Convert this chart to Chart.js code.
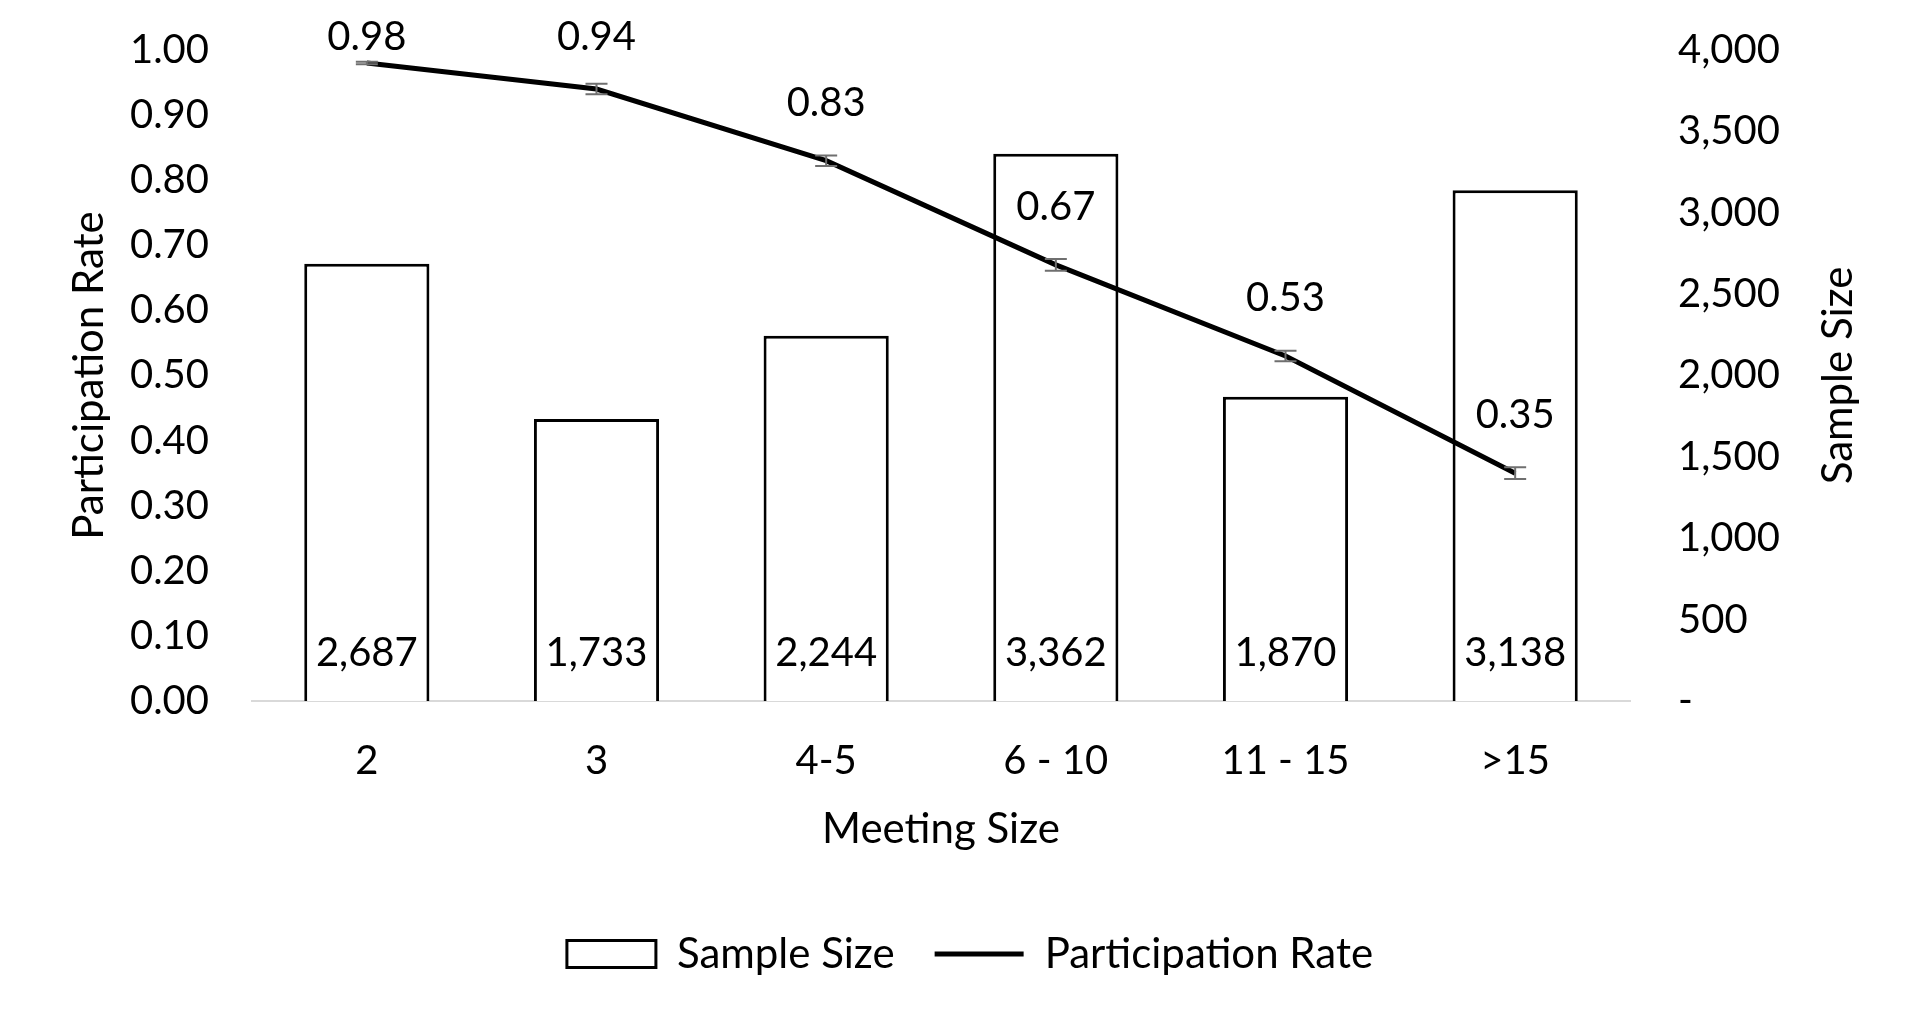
<!DOCTYPE html>
<html>
<head>
<meta charset="utf-8">
<script src="https://cdn.jsdelivr.net/npm/chart.js@4.4.0/dist/chart.umd.min.js"></script>
<style>
  html, body { margin: 0; padding: 0; background: #fff; }
  #wrap { width: 1923px; height: 1022px; }
</style>
</head>
<body>
<div id="wrap"><canvas id="chart"></canvas></div>
<script>
const categories = ['2', '3', '4-5', '6 - 10', '11 - 15', '>15'];
const sampleSize = [2687, 1733, 2244, 3362, 1870, 3138];
const participationRate = [0.98, 0.94, 0.83, 0.67, 0.53, 0.35];
const rateError = [0.002, 0.008, 0.008, 0.009, 0.008, 0.009];
const rateTicks = [0, 0.1, 0.2, 0.3, 0.4, 0.5, 0.6, 0.7, 0.8, 0.9, 1.0];
const sizeTicks = [0, 500, 1000, 1500, 2000, 2500, 3000, 3500, 4000];

const FONT = 'Lato';
Chart.defaults.color = '#000';
Chart.defaults.font.family = FONT;

// no extra room for half tick labels, the plot area is placed by hand
const noPad = scale => {
  scale.paddingTop = 0; scale.paddingBottom = 0;
  scale.paddingLeft = 0; scale.paddingRight = 0;
};

// error bars, value labels and the right-hand axis title
const extras = {
  id: 'extras',
  afterDatasetsDraw(chart) {
    const { ctx, chartArea } = chart;
    const yRate = chart.scales.yRate;
    const ySize = chart.scales.ySize;
    const lineMeta = chart.getDatasetMeta(1);
    const barMeta = chart.getDatasetMeta(0);

    ctx.save();
    ctx.strokeStyle = '#6f6f6f';
    ctx.lineWidth = 2;
    lineMeta.data.forEach((pt, i) => {
      const lo = yRate.getPixelForValue(participationRate[i] - rateError[i]);
      const hi = yRate.getPixelForValue(participationRate[i] + rateError[i]);
      ctx.beginPath();
      ctx.moveTo(pt.x, lo); ctx.lineTo(pt.x, hi);
      ctx.moveTo(pt.x - 11, lo); ctx.lineTo(pt.x + 11, lo);
      ctx.moveTo(pt.x - 11, hi); ctx.lineTo(pt.x + 11, hi);
      ctx.stroke();
    });

    ctx.fillStyle = '#000';
    ctx.font = '40px ' + FONT;
    ctx.textAlign = 'center';
    ctx.textBaseline = 'middle';
    const base = ySize.getPixelForValue(0);
    barMeta.data.forEach((bar, i) => {
      ctx.fillText(sampleSize[i].toLocaleString('en-US'), bar.x, base - 48);
    });
    lineMeta.data.forEach((pt, i) => {
      ctx.fillText(participationRate[i].toFixed(2), pt.x, Math.max(37, pt.y - 58));
    });

    ctx.font = '42px ' + FONT;
    ctx.translate(1838, (chartArea.top + chartArea.bottom) / 2);
    ctx.rotate(-Math.PI / 2);
    ctx.fillText('Sample Size', 0, 0);
    ctx.restore();
  }
};

new Chart(document.getElementById('chart'), {
  data: {
    labels: categories,
    datasets: [
      {
        type: 'bar',
        label: 'Sample Size',
        data: sampleSize,
        yAxisID: 'ySize',
        backgroundColor: '#fff',
        borderColor: '#000',
        borderWidth: 3,
        barPercentage: 0.545,
        categoryPercentage: 1,
        order: 1
      },
      {
        type: 'line',
        label: 'Participation Rate',
        data: participationRate,
        yAxisID: 'yRate',
        borderColor: '#000',
        backgroundColor: '#000',
        borderWidth: 5,
        pointRadius: 0,
        tension: 0,
        order: 0
      }
    ]
  },
  options: {
    responsive: true,
    maintainAspectRatio: false,
    animation: false,
    layout: { padding: { top: 50, bottom: 37, left: 17, right: 0 } },
    plugins: {
      tooltip: { enabled: false },
      legend: {
        position: 'bottom',
        labels: {
          font: { size: 42 },
          usePointStyle: true,
          pointStyleWidth: 89,
          boxHeight: 27,
          padding: 40,
          sort: (a, b) => a.datasetIndex - b.datasetIndex,
          generateLabels(chart) {
            return chart.data.datasets.map((ds, i) => ({
              text: ds.label,
              datasetIndex: i,
              fillStyle: ds.type === 'bar' ? '#fff' : '#000',
              strokeStyle: '#000',
              lineWidth: ds.type === 'bar' ? 3 : 5,
              pointStyle: ds.type === 'bar' ? 'rect' : 'line',
              fontColor: '#000',
              hidden: false
            }));
          }
        }
      }
    },
    scales: {
      x: {
        grid: { display: false, drawTicks: false },
        border: { display: true, color: '#d9d9d9', width: 2 },
        ticks: { font: { size: 40 }, padding: 36 },
        title: { display: true, text: 'Meeting Size', font: { size: 42 }, padding: { top: 0, bottom: 38 } },
        afterFit(scale) { scale.height = 192; noPad(scale); }
      },
      yRate: {
        position: 'left',
        min: 0,
        max: 1,
        grid: { display: false, drawTicks: false },
        border: { display: false },
        afterBuildTicks(scale) { scale.ticks = rateTicks.map(v => ({ value: v })); },
        ticks: { font: { size: 40 }, padding: 43, callback: v => Number(v).toFixed(2) },
        title: { display: true, text: 'Participation Rate', font: { size: 42 }, padding: { top: 47, bottom: 0 } },
        afterFit(scale) { scale.width = 235; noPad(scale); }
      },
      ySize: {
        position: 'right',
        min: 0,
        max: 4000,
        grid: { display: false, drawTicks: false },
        border: { display: false },
        afterBuildTicks(scale) { scale.ticks = sizeTicks.map(v => ({ value: v })); },
        ticks: {
          font: { size: 40 },
          padding: 48,
          callback: v => (v === 0 ? '-' : Number(v).toLocaleString('en-US'))
        },
        afterFit(scale) { scale.width = 293; noPad(scale); }
      }
    }
  },
  plugins: [extras]
});
</script>
</body>
</html>
